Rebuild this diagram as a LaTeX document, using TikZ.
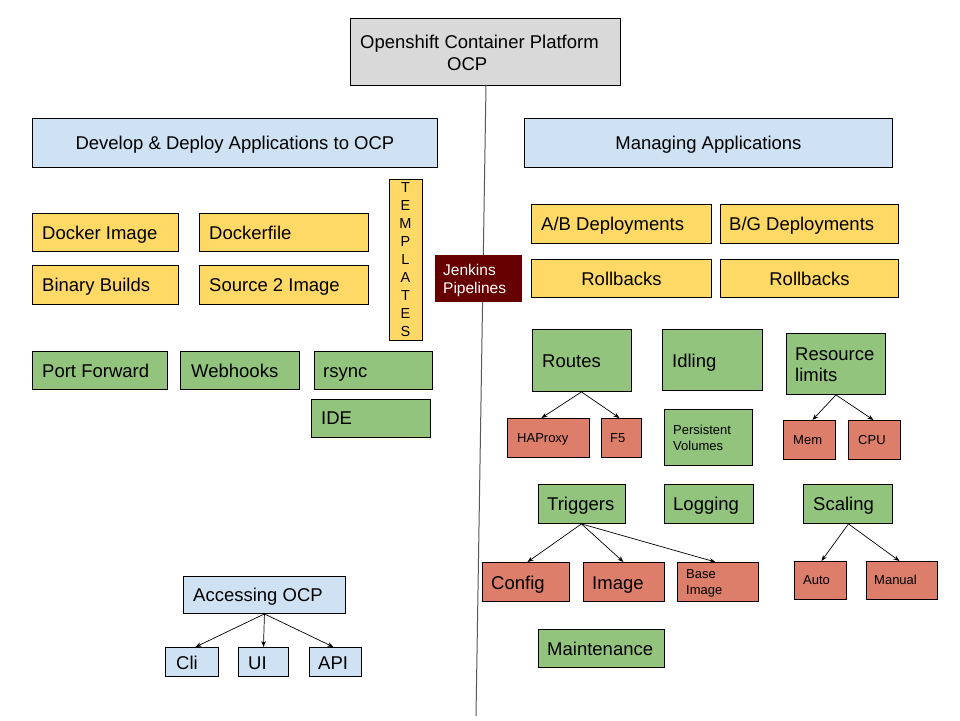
\documentclass[tikz,border=0pt]{standalone}
\usepackage{fontspec}
\setmainfont{Liberation Sans}
\usetikzlibrary{arrows.meta}
\definecolor{cgrey}{HTML}{D9D9D9}
\definecolor{cblue}{HTML}{CFE2F3}
\definecolor{cyel}{HTML}{FFD966}
\definecolor{cgrn}{HTML}{93C47D}
\definecolor{cred}{HTML}{DD7E6B}
\definecolor{cjen}{HTML}{660000}
\definecolor{cline}{HTML}{595959}
\newcommand{\bx}[6]{\node[draw=black, line width=0.9pt, fill=#6, minimum width={(#4-#2)*1pt}, minimum height={(#5-#3)*1pt}, inner sep=0pt, anchor=north west] (#1) at (#2,#3) {};}
\tikzset{
  big/.style={inner sep=0pt, font=\fontsize{18.5}{22}\selectfont, anchor=base west, yshift=-6.6pt},
  bigc/.style={inner sep=0pt, font=\fontsize{18.5}{22}\selectfont, anchor=base, yshift=-6.6pt},
  small/.style={inner sep=0pt, font=\fontsize{13}{16}\selectfont, anchor=base west, yshift=-4.7pt},
  jtxt/.style={inner sep=0pt, text=white, font=\fontsize{15.5}{18}\selectfont, anchor=base west, yshift=-5.5pt},
  arr/.style={-{Stealth[length=6pt,width=4.5pt]}, line width=0.7pt},
}
\begin{document}
\begin{tikzpicture}[x=1pt,y=-1pt]
\useasboundingbox[fill=white] (0,0) rectangle (960,720);
% title
\bx{ocp}{350}{18}{620}{85}{cgrey}
\coordinate (lineend) at (476,716);
\draw[cline, line width=1pt] (486,85) -- (lineend);
\node[big] (ocpt1) at (360,42) {Openshift Container Platform};
\node[big] (ocpt2) at (447,64) {OCP};
% left header
\bx{dev}{32}{118}{437}{167}{cblue}
\node[bigc] (devt) at (dev.center) {Develop \& Deploy Applications to OCP};
% yellow left
\bx{dock}{32}{213}{178}{251}{cyel}
\node[big] (dockt) at (42,233) {Docker Image};
\bx{dfile}{199}{213}{368}{251}{cyel}
\node[big] (dfilet) at (209,233) {Dockerfile};
\bx{bin}{32}{265}{178}{304}{cyel}
\node[big] (bint) at (42,285) {Binary Builds};
\bx{s2i}{199}{265}{368}{304}{cyel}
\node[big] (s2it) at (209,285) {Source 2 Image};
\bx{tmpl}{389}{179}{422}{340}{cyel}
\foreach \l [count=\i from 0] in {T,E,M,P,L,A,T,E,S}{
  \node[inner sep=0pt, font=\fontsize{14.5}{16}\selectfont] (tl\i) at (405.5,{188+\i*18}) {\l};
}
% green left
\bx{pf}{32}{351}{167}{389}{cgrn}
\node[big] (pft) at (42,371) {Port Forward};
\bx{wh}{180}{351}{299}{389}{cgrn}
\node[big] (wht) at (191,371) {Webhooks};
\bx{rs}{314}{351}{432}{389}{cgrn}
\node[big] (rst) at (323,371) {rsync};
\bx{ide}{311}{399}{430}{437}{cgrn}
\node[big] (idet) at (321,418) {IDE};
% jenkins
\node[fill=cjen, minimum width=87pt, minimum height=47pt, inner sep=0pt, anchor=north west] (jen) at (435,255) {};
\node[jtxt] (jent1) at (443,270) {Jenkins};
\node[jtxt] (jent2) at (443,288) {Pipelines};
% right header
\bx{man}{524}{118}{892}{167}{cblue}
\node[bigc] (mant) at (man.center) {Managing Applications};
\bx{ab}{531}{204}{711}{243}{cyel}
\node[big] (abt) at (541,224) {A/B Deployments};
\bx{bg}{720}{204}{898}{243}{cyel}
\node[big] (bgt) at (729,224) {B/G Deployments};
\bx{rb1}{531}{259}{711}{297}{cyel}
\node[bigc] (rb1t) at (rb1.center) {Rollbacks};
\bx{rb2}{720}{259}{898}{297}{cyel}
\node[bigc] (rb2t) at (rb2.center) {Rollbacks};
% routes etc
\bx{routes}{532}{329}{631}{391}{cgrn}
\node[big] (routest) at (542,361) {Routes};
\bx{idl}{662}{329}{762}{390}{cgrn}
\node[big] (idlt) at (672,361) {Idling};
\bx{res}{786}{333}{885}{394}{cgrn}
\node[big] (rest1) at (795,354) {Resource};
\node[big] (rest2) at (795,375) {limits};
\bx{hap}{507}{418}{589}{457}{cred}
\node[small] (hapt) at (517,438) {HAProxy};
\bx{f5}{601}{418}{641}{457}{cred}
\node[small] (f5t) at (610,438) {F5};
\bx{pv}{664}{409}{752}{465}{cgrn}
\node[small] (pvt1) at (673,430) {Persistent};
\node[small] (pvt2) at (673,446) {Volumes};
\bx{mem}{783}{420}{835}{459}{cred}
\node[small] (memt) at (793,440) {Mem};
\bx{cpu}{848}{420}{900}{459}{cred}
\node[small] (cput) at (858,440) {CPU};
\draw[arr] ([xshift=-0.5pt]routes.south) -- ([xshift=-7pt]hap.north);
\draw[arr] ([xshift=-0.5pt]routes.south) -- ([xshift=-2pt]f5.north);
\draw[arr] (res.south) -- ([xshift=3pt]mem.north);
\draw[arr] (res.south) -- ([xshift=-1pt]cpu.north);
% triggers etc
\bx{trg}{538}{484}{625}{523}{cgrn}
\node[big] (trgt) at (547,504) {Triggers};
\bx{log}{664}{484}{753}{523}{cgrn}
\node[big] (logt) at (673,504) {Logging};
\bx{scl}{803}{484}{892}{523}{cgrn}
\node[big] (sclt) at (813,504) {Scaling};
\bx{cfg}{482}{562}{569}{601}{cred}
\node[big] (cfgt) at (491,583) {Config};
\bx{img}{583}{562}{664}{601}{cred}
\node[big] (imgt) at (592,583) {Image};
\bx{bimg}{677}{562}{758}{601}{cred}
\node[small] (bimgt1) at (686,574) {Base};
\node[small] (bimgt2) at (686,590) {Image};
\bx{auto}{794}{561}{846}{599}{cred}
\node[small] (autot) at (803,580) {Auto};
\bx{manu}{866}{561}{937}{599}{cred}
\node[small] (manut) at (874,580) {Manual};
\bx{mnt}{538}{629}{664}{667}{cgrn}
\node[big] (mntt) at (547,649) {Maintenance};
\draw[arr] ([xshift=-0.5pt]trg.south) -- ([xshift=1.5pt]cfg.north);
\draw[arr] ([xshift=-0.5pt]trg.south) -- ([xshift=-0.5pt]img.north);
\draw[arr] ([xshift=-0.5pt]trg.south) -- ([xshift=-2.5pt]bimg.north);
\draw[arr] ([xshift=0.5pt]scl.south) -- ([xshift=1pt]auto.north);
\draw[arr] ([xshift=0.5pt]scl.south) -- ([xshift=-2.5pt]manu.north);
% accessing
\bx{acc}{183}{576}{345}{613}{cblue}
\node[big] (acct) at (193,595) {Accessing OCP};
\bx{cli}{165}{647}{218}{676}{cblue}
\node[big] (clit) at (176,663) {Cli};
\bx{ui}{238}{647}{288}{676}{cblue}
\node[big] (uit) at (248,663) {UI};
\bx{api}{309}{647}{361}{676}{cblue}
\node[big] (apit) at (318,663) {API};
\draw[arr] (acc.south) -- ([xshift=3.5pt]cli.north);
\draw[arr] (acc.south) -- (ui.north);
\draw[arr] (acc.south) -- ([xshift=-2pt]api.north);
\end{tikzpicture}
\end{document}
